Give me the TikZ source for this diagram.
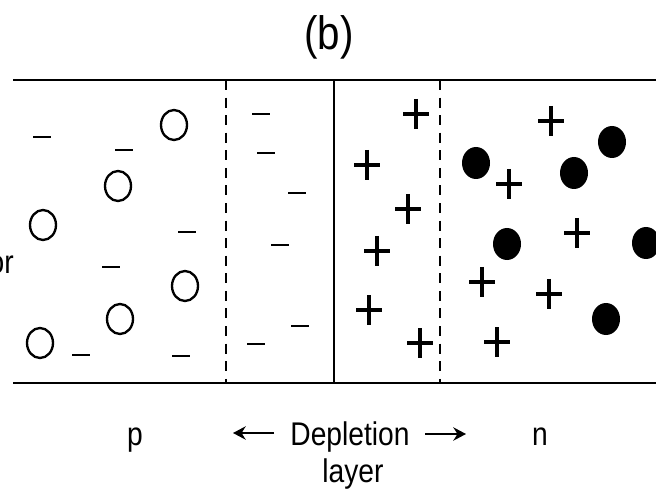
\documentclass[tikz,border=0pt]{standalone}
\usepackage{fontspec}
\setmainfont{Liberation Sans}[FakeStretch=0.86]
\usepackage{tikz}
\usetikzlibrary{shapes.geometric, arrows.meta, positioning, calc}
\tikzset{
    hole/.style={ellipse, draw, line width=2pt, minimum width=0.78cm, minimum height=0.9cm, inner sep=0pt},
    electron/.style={ellipse, fill=black, minimum width=0.84cm, minimum height=0.96cm, inner sep=0pt},
    edge line/.style={line width=2.3pt},
    junction/.style={line width=2.1pt, dash pattern=on 8.5pt off 6.5pt},
    charge/.style={line width=2.6pt},
    acceptor/.style={line width=2.1pt},
    label text/.style={font=\fontsize{28}{32}\selectfont, anchor=base, inner sep=0pt},
    arrow/.style={line width=2.1pt, -{Stealth[length=0.38cm, width=0.4cm]}}
}

\begin{document}
\begin{tikzpicture}[x=0.03cm, y=-0.03cm]
    \useasboundingbox (0,0) rectangle (656,489);
    \clip (0,0) rectangle (656,489);

    \node (title) [label text, font=\fontsize{40}{44}\selectfont] at (329,50) {(b)};

    % crystal edges and junction
    \draw [edge line] (13,80) -- (670,80);
    \draw [edge line] (13,383) -- (670,383);
    \draw [edge line] (334,80) -- (334,383);
    \draw [junction] (226,80) -- (226,383);
    \draw [junction] (440,80) -- (440,383);

    % holes and electrons
    \foreach \x/\y [count=\i] in {174/125, 118/186, 43/225, 185/286, 120/319, 40/343}
        \node (h\i) [hole] at (\x,\y) {};
    \foreach \x/\y [count=\i] in {476/163, 574/173, 612/142, 507/244, 646/243, 606/319}
        \node (e\i) [electron] at (\x,\y) {};

    % acceptor and donor ions
    \foreach \x/\y in {42/137, 124/150, 187/232, 111/267, 81/355, 181/356,
                       261/114, 266/153, 297/193, 280/245, 300/326, 256/344}
        \draw [acceptor] (\x-9,\y) -- (\x+9,\y);
    \foreach \x/\y in {416/114, 367/165, 408/209, 377/251, 369/310, 420/343,
                       551/121, 509/184, 577/233, 482/282, 549/294, 497/342}
        \draw [charge] (\x-13,\y) -- (\x+13,\y) (\x,\y-15) -- (\x,\y+15);

    % labels
    \node (side) [label text, anchor=base east] at (14,273) {or};
    \node (p) [label text] at (135,445) {p};
    \node (dep) [label text] at (350,445) {Depletion};
    \node (lay) [label text] at (353,482) {layer};
    \node (n) [label text] at (540,445) {n};

    \coordinate (la) at (233,433);
    \coordinate (lb) at (274,433);
    \coordinate (ra) at (425,434);
    \coordinate (rb) at (466,434);
    \draw [arrow] (lb) -- (la);
    \draw [arrow] (ra) -- (rb);
\end{tikzpicture}
\end{document}
